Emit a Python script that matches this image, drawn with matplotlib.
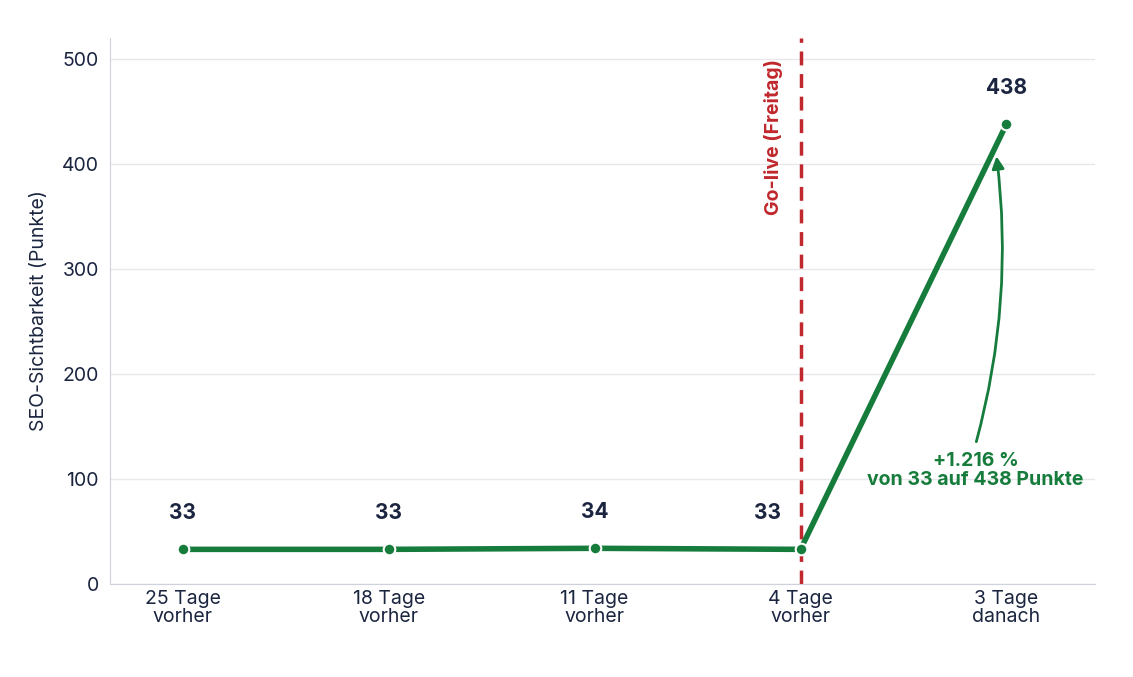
import matplotlib
matplotlib.use("Agg")
import matplotlib.pyplot as plt

categories = ["25 Tage\nvorher", "18 Tage\nvorher", "11 Tage\nvorher", "4 Tage\nvorher", "3 Tage\ndanach"]
values = [33, 33, 34, 33, 438]
yticks = [0, 100, 200, 300, 400, 500]

plt.rcParams['font.family'] = ['Inter', 'DejaVu Sans']
green = "#167c3c"
navy = "#1b2540"
red = "#c0282d"

fig = plt.figure(figsize=(11.33, 6.77), dpi=100)
ax = fig.add_axes([110/1133, 1-584/677, 985/1133, 546/677])
x = list(range(len(values)))
ax.plot(x, values, color=green, lw=4, zorder=3, solid_capstyle='round')
ax.scatter(x, values, s=70, color=green, edgecolor="white", linewidth=1.5, zorder=4)
for i, v in enumerate(values):
    dx = -0.16 if i == 3 else 0
    ax.text(i + dx, v + 25, str(v), ha="center", va="bottom", fontsize=15, fontweight="bold", color=navy)

ax.axvline(3, color=red, lw=2.5, ls=(0, (4, 2.5)), zorder=2)
ax.text(2.87, 500, "Go-live (Freitag)", rotation=90, ha="center", va="top",
        fontsize=14, fontweight="bold", color=red)

ax.annotate("", xy=(3.95, 410), xytext=(3.85, 133),
            arrowprops=dict(arrowstyle="-|>", color=green, lw=2, mutation_scale=18,
                            connectionstyle="arc3,rad=0.1"))
ax.text(3.85, 108, "+1.216 %\nvon 33 auf 438 Punkte", ha="center", va="center",
        fontsize=14, fontweight="bold", color=green, linespacing=1.1)

ax.set_xlim(-0.354, 4.43)
ax.set_ylim(0, 520)
ax.set_yticks(yticks)
ax.set_xticks(x)
ax.set_xticklabels(categories, fontsize=14, color=navy, linespacing=1.0)
ax.tick_params(axis='y', labelsize=14, colors=navy, length=0, pad=8)
ax.tick_params(axis='x', length=0, pad=4)
ax.grid(axis='y', color="#e8e8ec", lw=1)
ax.set_axisbelow(True)
for s in ["top", "right"]:
    ax.spines[s].set_visible(False)
ax.spines["left"].set_color("#cfd2dc")
ax.spines["bottom"].set_color("#cfd2dc")
ax.set_ylabel("SEO-Sichtbarkeit (Punkte)", fontsize=14, color=navy, labelpad=10)
fig.savefig("out.png", dpi=100)
